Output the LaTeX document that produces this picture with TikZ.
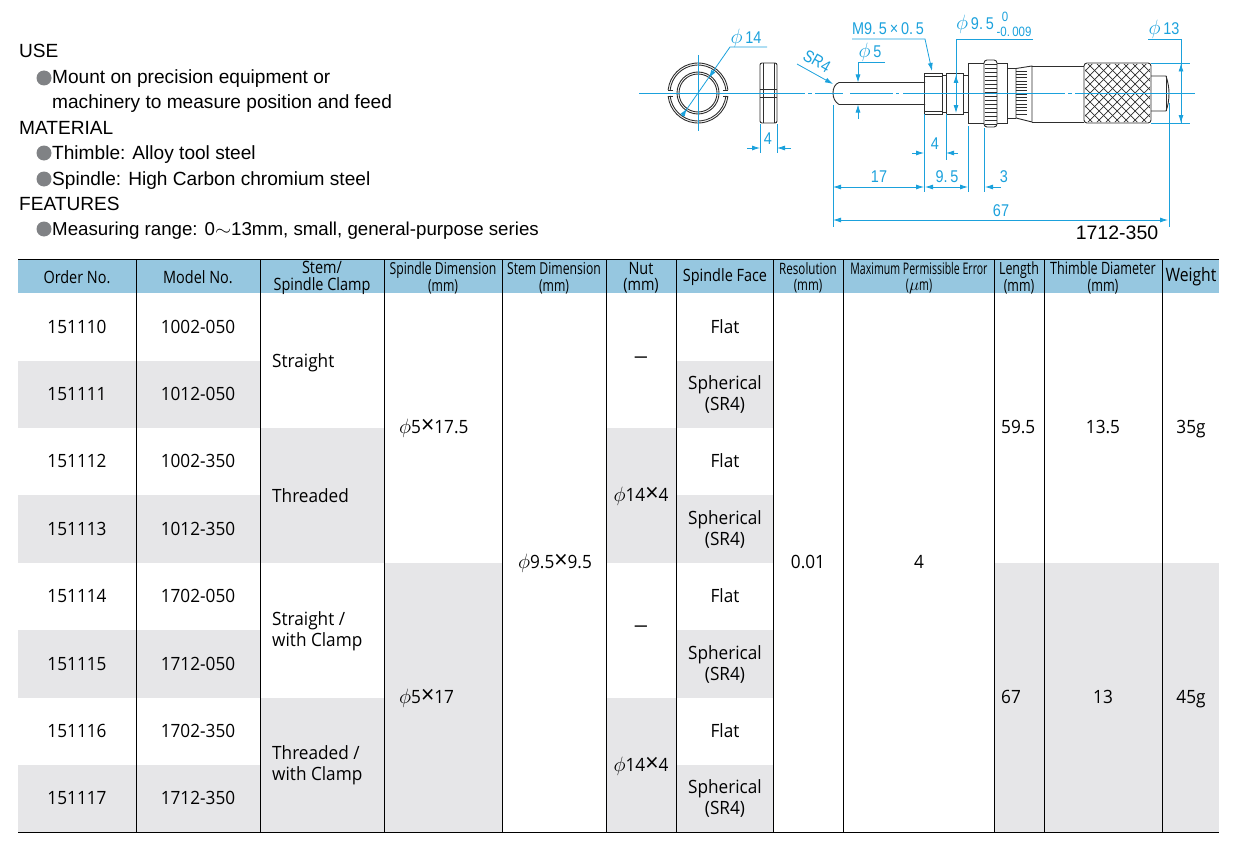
\documentclass[tikz,border=0pt]{standalone}
\usepackage{fontspec}
\setmainfont{Liberation Sans}
\newfontfamily\cellfont[FakeStretch=0.94]{Open Sans}
\newfontfamily\midfont[FakeStretch=0.85]{Open Sans}
\newfontfamily\narrowfont[FakeStretch=0.74]{Open Sans}
\newfontfamily\tightfont[FakeStretch=0.66]{Open Sans}
\newfontfamily\dimfont[FakeStretch=0.85]{Liberation Sans}
\usetikzlibrary{arrows.meta}
\definecolor{dimblue}{HTML}{1BA1DC}
\definecolor{headblue}{HTML}{96C7E0}
\definecolor{rowgray}{HTML}{E6E6E8}
\definecolor{dotgray}{HTML}{808285}
\definecolor{partgray}{HTML}{2E2E2E}
\tikzset{dimtip/.tip={Latex[length=8pt,width=5pt]},
	 part/.style={draw=partgray,line width=0.9pt},
	 dim/.style={draw=dimblue,line width=0.8pt},
	 dimtext/.style={text=dimblue,inner sep=0pt,font=\dimfont\fontsize{17}{17}\selectfont},
	 smalldim/.style={dimtext,font=\dimfont\fontsize{13.5}{13.5}\selectfont},
	 spectext/.style={anchor=base west,inner sep=0pt,font=\fontsize{19.1}{20}\selectfont},
	 bulletdot/.style={circle,fill=dotgray,inner sep=0pt,minimum size=15pt},
	 cell/.style={inner sep=0pt,align=center,font=\cellfont\fontsize{18.3}{21}\selectfont},
	 lcell/.style={cell,anchor=west,align=left},
	 head/.style={inner sep=0pt,align=center,font=\midfont\fontsize{17}{16.5}\selectfont},
	 nhead/.style={head,font=\narrowfont\fontsize{16.5}{16.5}\selectfont},
	 shade/.style={fill=rowgray}
	 }
\newcommand{\dia}{\scalebox{1.2}{$\phi$}}
\newcommand{\bytimes}{\scalebox{1.35}{×}}
\newcommand{\nodash}{\scalebox{1.7}[1]{–}}
\begin{document}
\begin{tikzpicture}[x=1pt,y=-1pt]
	\useasboundingbox (0,0) rectangle (1243,851);
	% spec text
	\node[spectext] (use) at (19,57.5) {USE};
	\node[bulletdot] (d1) at (44,78) {};
	\node[spectext] (use1) at (52,84) {Mount on precision equipment or};
	\node[spectext] (use2) at (52,109) {machinery to measure position and feed};
	\node[spectext] (mat) at (19,134) {MATERIAL};
	\node[bulletdot] (d2) at (44,153) {};
	\node[spectext] (mat1) at (52,159) {Thimble: Alloy tool steel};
	\node[bulletdot] (d3) at (44,179) {};
	\node[spectext] (mat2) at (52,185) {Spindle: High Carbon chromium steel};
	\node[spectext] (fea) at (19,210) {FEATURES};
	\node[bulletdot] (d4) at (44,229) {};
	\node[spectext,font=\fontsize{18.7}{20}\selectfont] (fea1) at (52,235) {Measuring range: 0\scalebox{1.2}[1]{$\sim$}13mm, small, general-purpose series};
	% table shading
	\fill[headblue] (18,259) rectangle (1219,293);
	\foreach \ya/\yb in {360.5/428,495/562.5,630/697.5,765/832} {
		\fill[shade] (18,\ya) rectangle (260,\yb);
		\fill[shade] (676,\ya) rectangle (773,\yb);
	}
	\fill[shade] (260,428) rectangle (384,562.5);
	\fill[shade] (260,697.5) rectangle (384,832);
	\fill[shade] (384,562.5) rectangle (502,832);
	\fill[shade] (606,428) rectangle (676,562.5);
	\fill[shade] (606,697.5) rectangle (676,832);
	\fill[shade] (994,562.5) rectangle (1219,832);
	% table rules
	\foreach \x in {136,260,384,502,606,676,773,843,994,1044,1162}
		\draw[black,line width=0.8pt] (\x,259) -- (\x,832);
	\draw[black,line width=0.8pt] (18,259) -- (1219,259);
	\draw[black,line width=0.8pt] (18,832) -- (1219,832);
	% table head
	\node[head] (hord) at (77,277) {Order No.};
	\node[head] (hmod) at (198,277) {Model No.};
	\node[head] (hstem) at (322,278) {Stem/\\Spindle Clamp};
	\node[nhead] (hspin) at (443,278) {Spindle Dimension\\(mm)};
	\node[nhead] (hsdim) at (554,278) {Stem Dimension\\(mm)};
	\node[head] (hnut) at (641,278) {Nut\\(mm)};
	\node[head] (hface) at (725,277) {Spindle Face};
	\node[nhead,font=\narrowfont\fontsize{15.7}{16.5}\selectfont] (hres) at (808,278) {Resolution\\(mm)};
	\node[nhead,font=\tightfont\fontsize{16}{16.5}\selectfont] (herr) at (919,278) {Maximum Permissible Error\\($\mu$m)};
	\node[nhead,font=\narrowfont\fontsize{16.8}{16.5}\selectfont] (hlen) at (1019,278) {Length\\(mm)};
	\node[nhead,font=\narrowfont\fontsize{17}{16.5}\selectfont] (hthi) at (1103,278) {Thimble Diameter\\(mm)};
	\node[head,font=\midfont\fontsize{18.5}{16.5}\selectfont] (hwei) at (1191,277) {Weight};
	% table rows
	\foreach \y/\ordno/\modno in {327/151110/1002-050,394/151111/1012-050,461/151112/1002-350,
		529/151113/1012-350,596/151114/1702-050,664/151115/1712-050,731/151116/1702-350,798/151117/1712-350} {
		\node[cell] (o\ordno) at (77,\y) {\ordno};
		\node[cell] (m\ordno) at (198,\y) {\modno};
	}
	\foreach \y in {327,461,596,731}
		\node[cell] (flat\y) at (725,\y) {Flat};
	\foreach \y in {394.5,529.5,664,798.5}
		\node[cell] (sph\y) at (725,\y) {Spherical\\(SR4)};
	\node[lcell] (s1) at (272,363) {Straight};
	\node[lcell] (s2) at (272,496) {Threaded};
	\node[lcell] (s3) at (272,631) {Straight /\\with Clamp};
	\node[lcell] (s4) at (272,765) {Threaded /\\with Clamp};
	\node[lcell] (sp1) at (399,428) {\dia5\bytimes17.5};
	\node[lcell] (sp2) at (399,698) {\dia5\bytimes17};
	\node[cell] (sd) at (555,563) {\dia9.5\bytimes9.5};
	\node[cell] (n1) at (641,360) {\nodash};
	\node[cell] (n2) at (641,496) {\dia14\bytimes4};
	\node[cell] (n3) at (641,629) {\nodash};
	\node[cell] (n4) at (641,766) {\dia14\bytimes4};
	\node[cell] (res) at (808,562) {0.01};
	\node[cell] (err) at (919,562) {4};
	\node[lcell] (l1) at (1001,427) {59.5};
	\node[lcell] (l2) at (1001,697) {67};
	\node[cell] (t1) at (1103,427) {13.5};
	\node[cell] (t2) at (1103,697) {13};
	\node[cell] (w1) at (1191,429) {35g};
	\node[cell] (w2) at (1191,699) {45g};
	% nut, front and side
	\foreach \r in {30,28} {
		\draw[part] (698,93) ++(6:\r) arc[start angle=6,end angle=174,radius=\r];
		\draw[part] (698,93) ++(-6:\r) arc[start angle=-6,end angle=-174,radius=\r];
	}
	\draw[part] (668,90) -- (673,90) (668,96) -- (673,96) (728,90) -- (723,90) (728,96) -- (723,96);
	\draw[part] (698,93) circle[radius=21];
	\draw[part] (698,93) circle[radius=19];
	\draw[part,rounded corners=2pt] (760,63) rectangle (777,123);
	\draw[part] (763,63) -- (763,123) (774,63) -- (774,123);
	\draw[part] (760,89) -- (777,89) (760,97) -- (777,97);
	% spindle
	\draw[part] (925,82.5) -- (839,82.5) .. controls (835,84) and (833,88) .. (833,93) .. controls (833,98) and (835,102) .. (839,104.5) -- (925,104.5);
	% stem and collar
	\draw[part] (924,73) rectangle (942,114);
	\draw[part] (924,76) -- (942,76) (924,111) -- (942,111);
	\draw[part] (942,75) -- (946,75) (942,112) -- (946,112);
	\draw[part] (946,73) rectangle (963,114);
	\draw[part] (963,75) -- (968,75) (963,112) -- (968,112);
	\draw[part] (968,63) rectangle (1007,123);
	\draw[part,fill=white,rounded corners=3pt] (984,60) rectangle (997,127);
	\foreach \y in {64,68,...,124}
		\draw[part,line width=0.7pt] (984.5,\y) -- (996.5,\y);
	% barrel and thimble
	\draw[part] (1007,68) -- (1016,68) (1007,118) -- (1016,118);
	\draw[part] (1016,68.5) -- (1032,66) -- (1032,122) -- (1016,118) -- cycle;
	\foreach \y in {71,74.3,...,117}
		\draw[part,line width=0.6pt] (1016,\y) -- (1027,\y);
	\draw[part] (1032,66) -- (1084,66) (1032,122) -- (1084,122);
	\draw[part,rounded corners=3pt] (1084,63) rectangle (1151,123);
	\begin{scope}
		\clip[rounded corners=3pt] (1085,64) rectangle (1150,122);
		\foreach \k in {0,9,...,144} {
			\draw[partgray,line width=0.7pt] (1024+\k,123) -- (1084+\k,63);
			\draw[partgray,line width=0.7pt] (1024+\k,63) -- (1084+\k,123);
		}
	\end{scope}
	\draw[part] (1151,76) -- (1166,76) .. controls (1168,82) and (1169,88) .. (1169,93) .. controls (1169,100) and (1168,106) .. (1166,111) -- (1151,111);
	\draw[part] (1166,76) -- (1166,111);
	% centre lines
	\foreach \xa/\xb in {639/805,808/812,815/843,850/893,896/899,903/1065,1068/1072,1075/1195}
		\draw[dim] (\xa,93) -- (\xb,93);
	\draw[dim] (698,55) -- (698,131);
	% upper dimensions
	\node[dimtext] (d14) at (746,38) {\dia\,14};
	\draw[dim] (767,47) -- (730,47) -- (682,116);
	\draw[dim,-{dimtip}] (714,70) -- (709,78);
	\draw[dim,-{dimtip}] (682,116) -- (687,108.5);
	\node[dimtext,rotate=-30] (sr4) at (817,61) {SR4};
	\draw[dim,-{dimtip}] (797,64) -- (833,84);
	\node[dimtext] (d5) at (870,52) {\dia\,5};
	\draw[dim,-{dimtip}] (885,62) -- (858,62) -- (858,82.5);
	\draw[dim,-{dimtip}] (858,119) -- (858,104.5);
	\node[dimtext] (m95) at (888,29) {M9.\,5\,×\,0.\,5};
	\draw[dim,-{dimtip}] (852,39) -- (925,39) -- (932,71);
	\node[dimtext] (d95) at (975,24) {\dia\,9.\,5};
	\node[smalldim] (up0) at (1005,17) {0};
	\node[smalldim] (lo0) at (1014,32) {-0.\,009};
	\draw[dim] (1033,39) -- (956,39) -- (956,100);
	\draw[dim,-{dimtip}] (956,90) -- (956,75);
	\draw[dim,-{dimtip}] (956,98) -- (956,113);
	\node[dimtext] (d13) at (1164,29) {\dia\,13};
	\draw[dim] (1148,39) -- (1181,39) -- (1181,123);
	\draw[dim,-{dimtip}] (1181,80) -- (1181,63.5);
	\draw[dim,-{dimtip}] (1181,106) -- (1181,123);
	\draw[dim] (1151,63) -- (1190,63) (1151,123) -- (1190,123);
	% nut width
	\node[dimtext] (w4) at (768,139) {4};
	\draw[dim] (760,124) -- (760,153) (777,124) -- (777,153);
	\draw[dim,-{dimtip}] (747,148) -- (760,148);
	\draw[dim,-{dimtip}] (791,148) -- (777,148);
	% lower dimensions
	\draw[dim] (833,105) -- (833,227) (924,114) -- (924,192) (946,114) -- (946,160);
	\draw[dim] (968,126) -- (968,192) (984,128) -- (984,192) (1169,103) -- (1169,227);
	\node[dimtext] (s4th) at (935,144) {4};
	\draw[dim,-{dimtip}] (912,153) -- (924,153);
	\draw[dim,-{dimtip}] (958,153) -- (946,153);
	\node[dimtext] (l17) at (879,177) {17};
	\draw[dim,{dimtip}-{dimtip}] (833,187) -- (924,187);
	\node[dimtext] (l95) at (947,177) {9.\,5};
	\draw[dim,{dimtip}-{dimtip}] (925,187) -- (968,187);
	\node[dimtext] (l3) at (1004,177) {3};
	\draw[dim,-{dimtip}] (1001,187) -- (985,187);
	\node[dimtext] (l67) at (1001,211) {67};
	\draw[dim,{dimtip}-{dimtip}] (833,220) -- (1168,220);
	\node[inner sep=0pt,font=\fontsize{19.5}{20}\selectfont] (model) at (1117,233) {1712-350};
\end{tikzpicture}
\end{document}
